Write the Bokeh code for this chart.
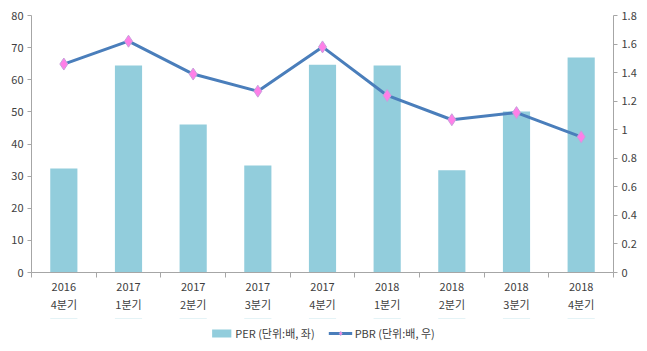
from bokeh.plotting import figure
from bokeh.models import (Range1d, LinearAxis, FixedTicker, Legend, LegendItem,
                          CustomJSTickFormatter, ColumnDataSource)
from bokeh.layouts import column
from bokeh.embed import file_html
from bokeh.resources import INLINE

years = ["2016", "2017", "2017", "2017", "2017", "2018", "2018", "2018", "2018"]
quarters = ["4분기", "1분기", "2분기", "3분기", "4분기", "1분기", "2분기", "3분기", "4분기"]
per = [32.4, 64.4, 46.1, 33.3, 64.7, 64.4, 31.8, 50.1, 66.9]
pbr = [1.46, 1.62, 1.39, 1.27, 1.58, 1.24, 1.07, 1.12, 0.95]
legend_labels = ["PER (단위:배, 좌)", "PBR (단위:배, 우)"]

FONT = "Noto Sans CJK KR"
TXT = "#404040"
AX = "#a6a6a6"
BAR_C = "#92cddc"
LINE_C = "#4a7ebb"
MK_FILL = "#ff7fe8"
MK_LINE = "#c9a0dc"

n = len(per)
xs = [i + 0.5 for i in range(n)]
src = ColumnDataSource(dict(x=xs, per=per, pbr=pbr))

p = figure(frame_width=582, frame_height=257, output_backend="svg", toolbar_location=None,
           x_range=Range1d(0, n), y_range=Range1d(0, 80),
           min_border_left=31, min_border_right=34, min_border_top=15, min_border_bottom=46,
           y_axis_location=None, x_axis_location=None)
p.outline_line_color = None
p.xgrid.visible = False
p.ygrid.visible = False
p.extra_y_ranges = {"pbr": Range1d(0, 1.8)}

p.vbar(x="x", top="per", width=0.42, source=src, fill_color=BAR_C, line_color=None)
p.line(x="x", y="pbr", source=src, y_range_name="pbr", line_color=LINE_C, line_width=3)
p.scatter(x="x", y="pbr", source=src, y_range_name="pbr", marker="diamond",
          size=12, fill_color=MK_FILL, line_color=MK_LINE, line_width=1)

def style(ax):
    ax.axis_line_color = AX
    ax.major_tick_line_color = AX
    ax.minor_tick_line_color = AX
    ax.major_label_text_font = FONT
    ax.major_label_text_font_size = "11px"
    ax.major_label_text_color = TXT
    ax.major_tick_in = 0
    ax.major_tick_out = 4
    ax.minor_tick_in = 0
    ax.minor_tick_out = 0

yl = LinearAxis(ticker=FixedTicker(ticks=list(range(0, 81, 10))))
style(yl)
yl.major_label_standoff = 4
p.add_layout(yl, "left")

yr = LinearAxis(y_range_name="pbr",
                ticker=FixedTicker(ticks=[round(0.2 * i, 1) for i in range(10)]),
                formatter=CustomJSTickFormatter(code="return String(Math.round(tick*10)/10)"))
style(yr)
yr.major_label_standoff = 4
p.add_layout(yr, "right")

xa = LinearAxis(ticker=FixedTicker(ticks=xs, minor_ticks=list(range(n + 1))))
style(xa)
xa.major_tick_out = 0
xa.minor_tick_out = 5
xa.major_label_standoff = 0
xa.major_label_text_line_height = 1.15
xa.major_label_overrides = {x: f"{y}\n{q}" for x, y, q in zip(xs, years, quarters)}
p.add_layout(xa, "below")

# legend strip below the chart: same series, drawn out of view, only their legend shows
lg = figure(width=647, height=30, output_backend="svg", toolbar_location=None,
            x_range=Range1d(0, n), y_range=Range1d(-200, -199),
            min_border=0, x_axis_location=None, y_axis_location=None)
lg.outline_line_color = None
lg.xgrid.visible = False
lg.ygrid.visible = False
r_bar = lg.vbar(x="x", top="per", width=0.42, source=src, fill_color=BAR_C, line_color=None)
r_line = lg.line(x="x", y="pbr", source=src, line_color=LINE_C, line_width=3)
r_pts = lg.scatter(x="x", y="pbr", source=src, marker="diamond", size=10,
                   fill_color=MK_FILL, line_color=MK_LINE, line_width=1)
legend = Legend(items=[LegendItem(label=legend_labels[0], renderers=[r_bar]),
                       LegendItem(label=legend_labels[1], renderers=[r_line, r_pts])],
                orientation="horizontal", location="center",
                label_text_font=FONT, label_text_font_size="11px", label_text_color=TXT,
                border_line_color=None, background_fill_alpha=0,
                glyph_width=24, glyph_height=10, spacing=14, padding=0, margin=0,
                label_standoff=2)
lg.add_layout(legend)

open("out.html", "w").write(file_html(column(p, lg), INLINE))
